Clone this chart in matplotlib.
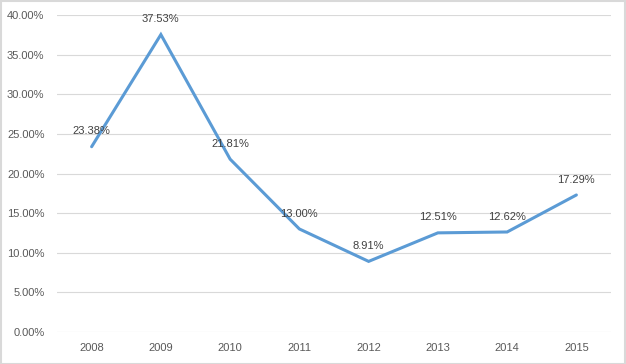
import matplotlib
matplotlib.use("Agg")
import matplotlib.pyplot as plt
from matplotlib.patches import Rectangle

years = ["2008", "2009", "2010", "2011", "2012", "2013", "2014", "2015"]
values = [23.38, 37.53, 21.81, 13.00, 8.91, 12.51, 12.62, 17.29]
yticks = [0, 5, 10, 15, 20, 25, 30, 35, 40]

plt.rcParams['font.family'] = ['Liberation Sans', 'DejaVu Sans']
fig = plt.figure(figsize=(6.26, 3.64), dpi=100)
ax = fig.add_axes([57/626, 1-332/364, (611-57)/626, (332-15)/364])

x = list(range(len(years)))
ax.plot(x, values, color="#5B9BD5", lw=2.2, solid_capstyle="round", solid_joinstyle="miter", zorder=3)
for xi, v in zip(x, values):
    ax.annotate(f"{v:.2f}%", (xi, v), xytext=(0, 7.5), textcoords="offset points",
                ha="center", va="bottom", fontsize=8, color="#404040", zorder=4)

ax.set_xlim(-0.5, len(years)-0.5)
ax.set_ylim(0, 40)
ax.set_yticks(yticks)
ax.set_yticklabels([f"{t:.2f}%" for t in yticks])
ax.set_xticks(x)
ax.set_xticklabels(years)
ax.tick_params(length=0, labelsize=8, labelcolor="#595959")
ax.tick_params(axis='y', pad=9)
ax.tick_params(axis='x', pad=8)
ax.grid(axis='y', color="#D9D9D9", lw=0.8)
ax.set_axisbelow(True)
for s in ax.spines.values():
    s.set_visible(False)

fig.patches.append(Rectangle((0.5/626, 0.5/364), 1-1.5/626, 1-1.5/364, transform=fig.transFigure,
                             fill=False, edgecolor="#D9D9D9", lw=1.5))
fig.savefig("out.png", dpi=100)
